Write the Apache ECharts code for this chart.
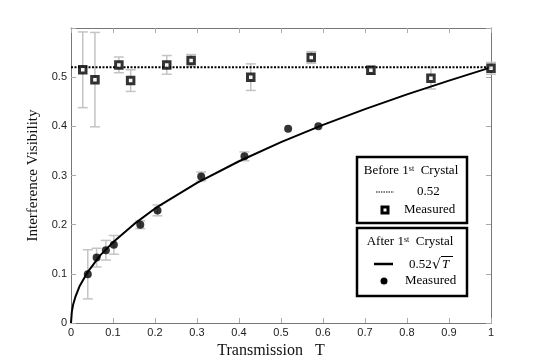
<!DOCTYPE html>
<html>
<head>
<meta charset="UTF-8">
<script src="https://cdn.jsdelivr.net/npm/echarts@6/dist/echarts.min.js"></script>
<style>
  html, body { margin: 0; padding: 0; background: #fff; }
  #chart { width: 545px; height: 364px; }
</style>
</head>
<body>
<div id="chart"></div>
<script>
// before 1st crystal (squares)
var beforeT = [0.028, 0.057, 0.114, 0.142, 0.228, 0.286, 0.428, 0.572, 0.714, 0.857, 1.0];
var beforeV = [0.515, 0.495, 0.525, 0.493, 0.525, 0.534, 0.500, 0.540, 0.514, 0.498, 0.518];
var beforeErr = [0.077, 0.096, 0.016, 0.022, 0.019, 0.012, 0.027, 0.012, 0.008, 0.022, 0.012];
var beforeLevel = 0.52;

// after 1st crystal (dots)
var afterT = [0.040, 0.061, 0.083, 0.102, 0.165, 0.206, 0.310, 0.413, 0.517, 0.589];
var afterV = [0.099, 0.133, 0.148, 0.159, 0.200, 0.229, 0.298, 0.339, 0.395, 0.400];
var afterErr = [0.050, 0.019, 0.020, 0.019, 0.008, 0.011, 0.009, 0.009, 0, 0];

// 0.52*sqrt(T) curve
var curveT = [0, 0.002, 0.005, 0.01, 0.02, 0.04, 0.07, 0.1, 0.15, 0.2, 0.3, 0.4, 0.5, 0.6, 0.7, 0.8, 0.9, 1.0];
var curveV = [0, 0.023, 0.037, 0.052, 0.074, 0.104, 0.138, 0.164, 0.201, 0.233, 0.285, 0.329, 0.368, 0.403, 0.435, 0.465, 0.493, 0.52];

function zip(a, b) {
  var out = [];
  for (var i = 0; i < a.length; i++) out.push([a[i], b[i]]);
  return out;
}
function errData(t, v, e) {
  var out = [];
  for (var i = 0; i < t.length; i++) {
    if (e[i] > 0) out.push([t[i], v[i] - e[i], v[i] + e[i]]);
  }
  return out;
}
function renderErr(params, api) {
  var lo = api.coord([api.value(0), api.value(1)]);
  var hi = api.coord([api.value(0), api.value(2)]);
  var w = 5;
  var st = { stroke: '#c4c4c4', lineWidth: 1.5 };
  return {
    type: 'group',
    children: [
      { type: 'line', shape: { x1: lo[0], y1: lo[1], x2: hi[0], y2: hi[1] }, style: st },
      { type: 'line', shape: { x1: lo[0] - w, y1: lo[1], x2: lo[0] + w, y2: lo[1] }, style: st },
      { type: 'line', shape: { x1: hi[0] - w, y1: hi[1], x2: hi[0] + w, y2: hi[1] }, style: st }
    ]
  };
}

var serif = 'Liberation Serif';
var sans = 'Liberation Sans';
var axLine = { onZero: false, lineStyle: { color: '#777', width: 1 } };
var axTick = { inside: true, length: 5, lineStyle: { color: '#aaa', width: 1 } };

var chart = echarts.init(document.getElementById('chart'));
var option = {
  animation: false,
  backgroundColor: '#fff',
  grid: { left: 71, right: 54, top: 28, bottom: 41 },
  xAxis: [{
    type: 'value', min: 0, max: 1, interval: 0.1, position: 'bottom',
    name: 'Transmission   T', nameLocation: 'middle', nameGap: 18,
    nameTextStyle: { fontFamily: serif, fontSize: 16, color: '#111', padding: [0, 20, 0, 0] },
    axisLine: axLine, axisTick: axTick, splitLine: { show: false },
    axisLabel: { fontFamily: sans, fontSize: 11, color: '#222', margin: 4 }
  }, {
    type: 'value', min: 0, max: 1, interval: 0.1, position: 'top',
    axisLine: axLine, axisTick: axTick, splitLine: { show: false },
    axisLabel: { show: false }
  }],
  yAxis: [{
    type: 'value', min: 0, max: 0.6, interval: 0.1, position: 'left',
    name: 'Interference Visibility', nameLocation: 'middle', nameGap: 26,
    nameTextStyle: { fontFamily: serif, fontSize: 15, color: '#111' },
    axisLine: axLine, axisTick: axTick, splitLine: { show: false },
    axisLabel: { fontFamily: sans, fontSize: 11, color: '#222', margin: 4,
      formatter: function (v) { return v > 0.55 ? '' : String(+v.toFixed(1)); } }
  }, {
    type: 'value', min: 0, max: 0.6, interval: 0.1, position: 'right',
    axisLine: axLine, axisTick: axTick, splitLine: { show: false },
    axisLabel: { show: false }
  }],
  series: [
    {
      type: 'custom', name: 'errBefore', renderItem: renderErr,
      data: errData(beforeT, beforeV, beforeErr), encode: { x: 0, y: [1, 2] }, z: 1, silent: true
    },
    {
      type: 'custom', name: 'errAfter', renderItem: renderErr,
      data: errData(afterT, afterV, afterErr), encode: { x: 0, y: [1, 2] }, z: 1, silent: true
    },
    {
      type: 'line', name: '0.52', data: [[0, beforeLevel], [1, beforeLevel]],
      symbol: 'none', lineStyle: { color: '#000', width: 2, type: [2, 1.5] }, z: 2
    },
    {
      type: 'line', name: 'fit', data: zip(curveT, curveV), symbol: 'none',
      lineStyle: { color: '#000', width: 2 }, z: 2
    },
    {
      type: 'scatter', name: 'Before measured', data: zip(beforeT, beforeV),
      symbol: 'rect', symbolSize: 6.5,
      itemStyle: { color: '#fff', borderColor: '#000', borderWidth: 3 }, z: 4
    },
    {
      type: 'scatter', name: 'After measured', data: zip(afterT, afterV),
      symbol: 'circle', symbolSize: 8,
      itemStyle: { color: '#000' }, z: 4
    }
  ],
  graphic: [
    // box 1
    { type: 'rect', shape: { x: 357, y: 157, width: 110, height: 66 },
      style: { fill: '#fff', stroke: '#000', lineWidth: 2.5 }, z: 10 },
    { type: 'text', z: 11, style: { x: 411, y: 171, textAlign: 'center', textVerticalAlign: 'middle',
      text: '{n|Before 1}{s|st}{n|  Crystal}',
      rich: { n: { fontFamily: serif, fontSize: 13, color: '#000' },
              s: { fontFamily: serif, fontSize: 8, color: '#000', verticalAlign: 'top' } } } },
    { type: 'line', z: 11, shape: { x1: 376, y1: 192, x2: 394, y2: 192 },
      style: { stroke: '#000', lineWidth: 1, lineDash: [1.5, 1] } },
    { type: 'text', z: 11, style: { x: 417, y: 192, textVerticalAlign: 'middle', text: '0.52',
      fontFamily: serif, fontSize: 13, fill: '#000' } },
    { type: 'rect', z: 11, shape: { x: 382, y: 207, width: 6, height: 6 },
      style: { fill: '#fff', stroke: '#000', lineWidth: 3 } },
    { type: 'text', z: 11, style: { x: 404, y: 210, textVerticalAlign: 'middle', text: 'Measured',
      fontFamily: serif, fontSize: 13, fill: '#000' } },
    // box 2
    { type: 'rect', shape: { x: 357, y: 228, width: 110, height: 68 },
      style: { fill: '#fff', stroke: '#000', lineWidth: 2.5 }, z: 10 },
    { type: 'text', z: 11, style: { x: 410, y: 242, textAlign: 'center', textVerticalAlign: 'middle',
      text: '{n|After 1}{s|st}{n|  Crystal}',
      rich: { n: { fontFamily: serif, fontSize: 13, color: '#000' },
              s: { fontFamily: serif, fontSize: 8, color: '#000', verticalAlign: 'top' } } } },
    { type: 'line', z: 11, shape: { x1: 374, y1: 264, x2: 393, y2: 264 },
      style: { stroke: '#000', lineWidth: 2.5 } },
    { type: 'text', z: 11, style: { x: 409, y: 265, textVerticalAlign: 'middle', text: '0.52',
      fontFamily: serif, fontSize: 13, fill: '#000' } },
    { type: 'text', z: 11, style: { x: 432, y: 265, textVerticalAlign: 'middle', text: '\u221A',
      fontFamily: 'DejaVu Serif', fontSize: 14, fill: '#000' } },
    { type: 'line', z: 11, shape: { x1: 441, y1: 256.5, x2: 453, y2: 256.5 },
      style: { stroke: '#000', lineWidth: 1 } },
    { type: 'text', z: 11, style: { x: 442, y: 265, textVerticalAlign: 'middle', text: 'T',
      fontFamily: serif, fontStyle: 'italic', fontSize: 13, fill: '#000' } },
    { type: 'circle', z: 11, shape: { cx: 384, cy: 281, r: 3.5 }, style: { fill: '#000' } },
    { type: 'text', z: 11, style: { x: 405, y: 281, textVerticalAlign: 'middle', text: 'Measured',
      fontFamily: serif, fontSize: 13, fill: '#000' } }
  ]
};
chart.setOption(option);
</script>
</body>
</html>
